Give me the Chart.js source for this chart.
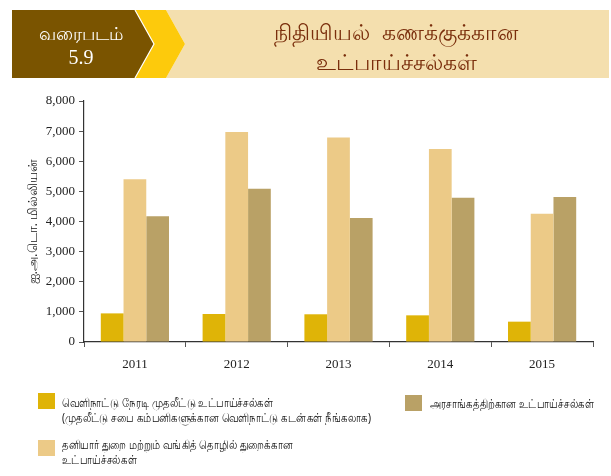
<!DOCTYPE html>
<html>
<head>
<meta charset="utf-8">
<script src="https://cdn.jsdelivr.net/npm/chart.js@4.4.1/dist/chart.umd.min.js"></script>
<style>
  html, body { margin: 0; padding: 0; background: #fff; }
  #wrap { position: relative; width: 611px; height: 476px; overflow: hidden; font-family: "Noto Sans", "DejaVu Sans", sans-serif; }
  #chart { position: absolute; left: 0; top: 0; }
  #header { position: absolute; left: 0; top: 0; }
  .hdr { position: absolute; text-align: center; }
  .leg { position: absolute; font-size: 12px; line-height: 15px; color: #111; white-space: nowrap; transform: scaleX(0.84); transform-origin: 0 0; }
  .sw { position: absolute; width: 17px; height: 16px; }
</style>
</head>
<body>
<div id="wrap">
  <canvas id="chart" width="611" height="476"></canvas>
  <svg id="header" width="611" height="90">
    <polygon points="166,10 609,10 609,78 166,78 185,44" fill="#F4DFAE"/>
    <polygon points="135,10 166,10 185,44 166,78 135,78 154,44" fill="#FDCA0C"/>
    <polygon points="12,10 135,10 154,44 135,78 12,78" fill="#7A5400"/>
    <polyline points="135,10 154,44 135,78" fill="none" stroke="#fff" stroke-width="1.2"/>
  </svg>
  <div class="hdr" style="left:16px;top:21px;width:130px;color:#fff;font-size:18px;line-height:24px;">வரைபடம்<br><span style="font-family:'Liberation Serif',serif;font-size:20px;">5.9</span></div>
  <div class="hdr" style="left:196px;top:16px;width:400px;color:#7A2E0C;font-size:22px;line-height:30px;">நிதியியல்&nbsp; கணக்குக்கான<br>உட்பாய்ச்சல்கள்</div>

  <div class="sw" style="left:38px;top:393px;background:#DFB407;"></div>
  <div class="leg" style="left:62px;top:395px;">வெளிநாட்டு நேரடி முதலீட்டு உட்பாய்ச்சல்கள்<br>(முதலீட்டு சபை கம்பனிகளுக்கான வெளிநாட்டு கடன்கள் நீங்கலாக)</div>
  <div class="sw" style="left:38px;top:440px;background:#ECCA87;"></div>
  <div class="leg" style="left:62px;top:437px;">தனியார் துறை மற்றும் வங்கித் தொழில் துறைக்கான<br>உட்பாய்ச்சல்கள்</div>
  <div class="sw" style="left:405px;top:395px;background:#B9A166;"></div>
  <div class="leg" style="left:430px;top:396px;">அரசாங்கத்திற்கான உட்பாய்ச்சல்கள்</div>
</div>
<script>
const categories = ["2011", "2012", "2013", "2014", "2015"];
const fdiValues = [950, 930, 920, 885, 675];
const privateValues = [5400, 6975, 6790, 6410, 4260];
const governmentValues = [4175, 5090, 4120, 4785, 4815];
const yTickValues = [0, 1000, 2000, 3000, 4000, 5000, 6000, 7000, 8000];
const yAxisTitle = "ஐ.அ.டொ. மில்லியன்";

const tickFont = { family: "'Liberation Serif', 'Times New Roman', serif", size: 13 };

new Chart(document.getElementById('chart'), {
  type: 'bar',
  data: {
    labels: categories,
    datasets: [
      { label: 'fdi', data: fdiValues, backgroundColor: '#DFB407' },
      { label: 'private', data: privateValues, backgroundColor: '#ECCA87' },
      { label: 'government', data: governmentValues, backgroundColor: '#B9A166' }
    ]
  },
  options: {
    responsive: false,
    animation: false,
    events: [],
    layout: { padding: { left: 19, top: 101, right: 18, bottom: 0 } },
    plugins: { legend: { display: false }, tooltip: { enabled: false } },
    datasets: { bar: { categoryPercentage: 0.67, barPercentage: 1.0 } },
    scales: {
      x: {
        grid: { display: true, drawOnChartArea: false, drawTicks: true, tickLength: 5, color: '#555', offset: true },
        border: { display: true, color: '#333', width: 1.2 },
        ticks: { font: tickFont, color: '#222', padding: 10 },
        afterFit: (s) => { s.height = 134; }
      },
      y: {
        min: 0, max: 8000,
        afterBuildTicks: (s) => { s.ticks = yTickValues.map(v => ({ value: v })); },
        grid: { display: true, drawOnChartArea: false, drawTicks: true, tickLength: 5, color: '#555' },
        border: { display: true, color: '#333', width: 1.2 },
        ticks: { font: tickFont, color: '#222', padding: 4,
          callback: (v) => v.toLocaleString('en-US') },
        title: { display: true, text: yAxisTitle, font: { size: 13, family: "'Noto Sans', sans-serif" }, color: '#111', padding: { top: 6, bottom: 0 } },
        afterFit: (s) => { s.width = 65; }
      }
    }
  }
});
</script>
</body>
</html>
